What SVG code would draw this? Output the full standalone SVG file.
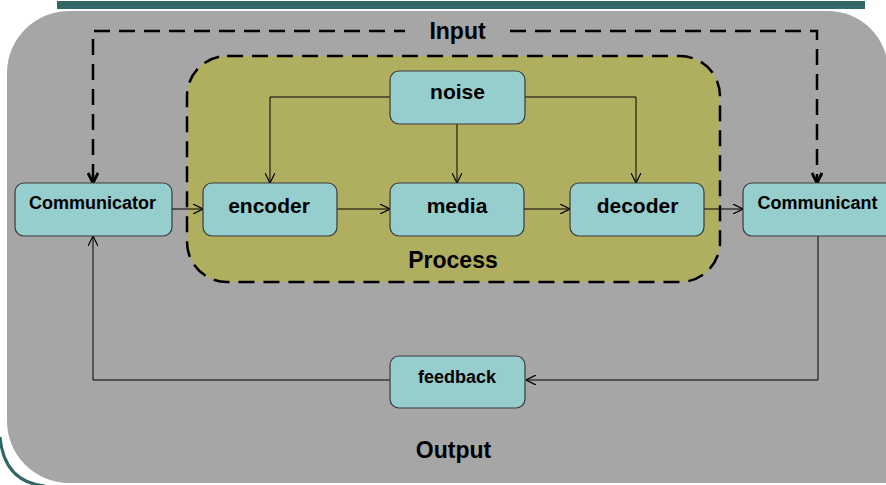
<svg xmlns="http://www.w3.org/2000/svg" width="886" height="485" viewBox="0 0 886 485">
<style>
.node{fill:#96CDCD;stroke:#3a3a3a;stroke-width:1.2}
.t{font-family:"Liberation Sans",Arial,sans-serif;font-weight:bold;fill:#000;text-anchor:middle}
.big{font-size:23px}
.mid{font-size:21px}
.sm{font-size:18px}
.c{fill:none;stroke:#000;stroke-width:1}
.d{fill:none;stroke:#000;stroke-width:2.5;stroke-dasharray:16,9}
</style>
<defs>
<marker id="a" viewBox="0 0 10 10" refX="10" refY="5" markerWidth="10" markerHeight="10" markerUnits="userSpaceOnUse" orient="auto">
<path d="M0,0 L10,5 L0,10" fill="none" stroke="#000" stroke-width="1.2"/>
</marker>
<marker id="b" viewBox="0 0 12 12" refX="11" refY="6" markerWidth="12" markerHeight="12" markerUnits="userSpaceOnUse" orient="auto">
<path d="M1,1 L11,6 L1,11" fill="none" stroke="#000" stroke-width="2.8"/>
</marker>
</defs>
<rect width="886" height="485" fill="#fff"/>
<rect x="57" y="1" width="808" height="8" fill="#336666"/>
<path d="M0,437 Q4,482 45,486" fill="none" stroke="#336666" stroke-width="3"/>
<path d="M69,11 H828 A60,60 0 0 1 888,71 V483 H69 A62,62 0 0 1 7,421 V73 A62,62 0 0 1 69,11 Z" fill="#A6A6A6"/>
<g id="process">
<rect x="187" y="56" width="533" height="226" rx="40" ry="40" fill="#B0AE5F" stroke="#000" stroke-width="2.5" stroke-dasharray="16,9"/>
<text class="t big" x="453" y="268">Process</text>
</g>
<g id="connectors">
<path class="d" d="M93,180 V31 H405"/>
<path class="d" d="M510,31 H817 V180"/>
<path d="M93,182 V183" class="c" stroke-width="2.5" marker-end="url(#b)"/>
<path d="M817,182 V183" class="c" stroke-width="2.5" marker-end="url(#b)"/>
<path class="c" d="M172,209 H203" marker-end="url(#a)"/>
<path class="c" d="M337,209 H390" marker-end="url(#a)"/>
<path class="c" d="M524,209 H570" marker-end="url(#a)"/>
<path class="c" d="M704,209 H743" marker-end="url(#a)"/>
<path class="c" d="M390,97 H270 V183" marker-end="url(#a)"/>
<path class="c" d="M457,124 V183" marker-end="url(#a)"/>
<path class="c" d="M524,97 H636 V183" marker-end="url(#a)"/>
<path class="c" d="M818,236 V380 H526" marker-end="url(#a)"/>
<path class="c" d="M390,380 H93 V236" marker-end="url(#a)"/>
</g>
<g id="input"><text class="t big" x="457.5" y="39">Input</text></g>
<g id="output"><text class="t big" x="453.5" y="458">Output</text></g>
<g id="noise"><rect class="node" x="390" y="71" width="135" height="53" rx="9"/><text class="t mid" x="457.5" y="99">noise</text></g>
<g id="communicator"><rect class="node" x="15" y="183" width="157" height="53" rx="9"/><text class="t sm" x="92.5" y="209">Communicator</text></g>
<g id="encoder"><rect class="node" x="203" y="183" width="134" height="53" rx="9"/><text class="t mid" x="269" y="213">encoder</text></g>
<g id="media"><rect class="node" x="390" y="183" width="134" height="53" rx="9"/><text class="t mid" x="457" y="213">media</text></g>
<g id="decoder"><rect class="node" x="570" y="183" width="134" height="53" rx="9"/><text class="t mid" x="637.5" y="213">decoder</text></g>
<g id="communicant"><rect class="node" x="743" y="183" width="160" height="53" rx="9"/><text class="t sm" x="817.5" y="209">Communicant</text></g>
<g id="feedback"><rect class="node" x="390" y="356" width="135" height="52" rx="9"/><text class="t sm" x="457" y="383">feedback</text></g>
</svg>
